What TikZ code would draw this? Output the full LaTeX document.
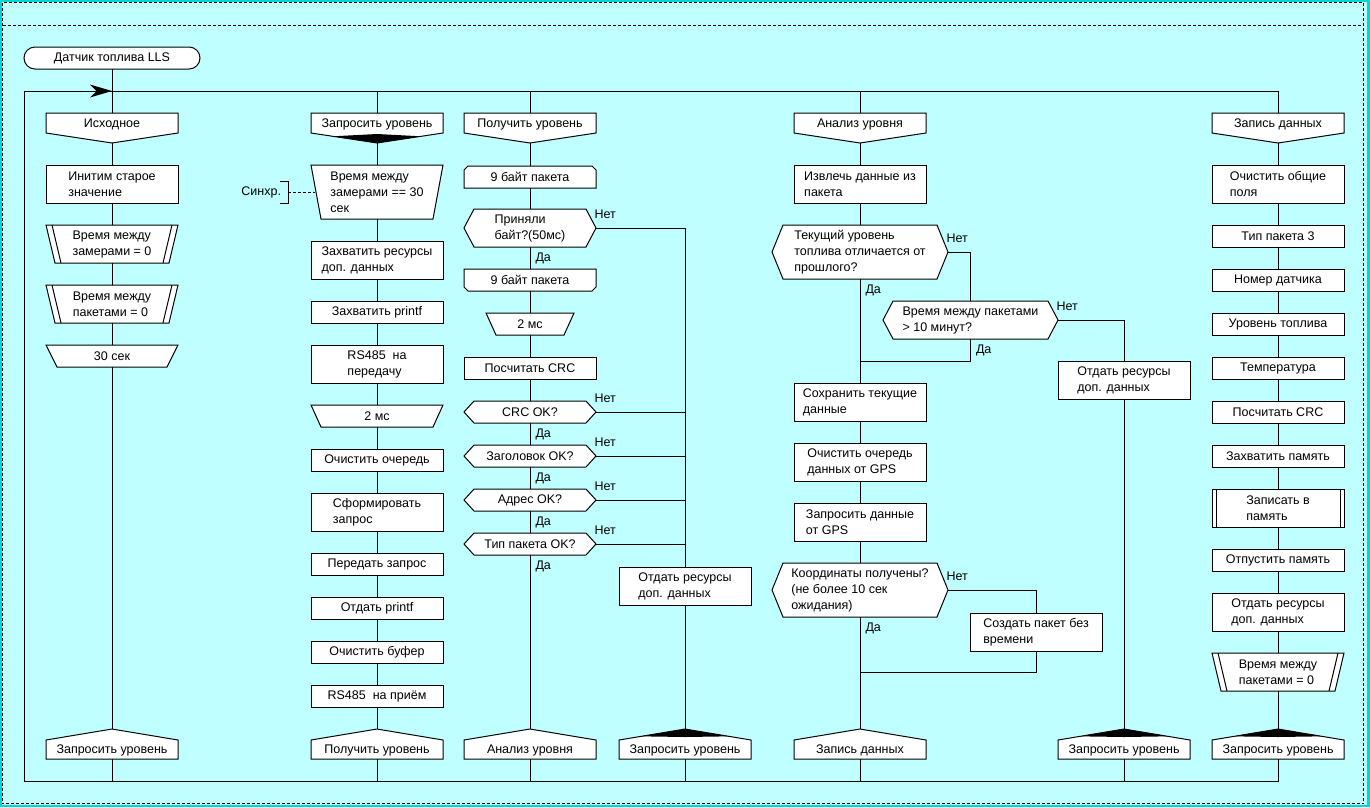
\documentclass[tikz,border=0pt]{standalone}
\usepackage{fontspec}
\setmainfont{Liberation Sans}
\usetikzlibrary{calc}
\definecolor{bgc}{RGB}{192,255,255}
\definecolor{edgec}{RGB}{0,214,214}
\pgfdeclarelayer{bglayer}
\pgfdeclarelayer{lnlayer}
\pgfsetlayers{bglayer,lnlayer,main}
\tikzset{
  ln/.style={draw=black, line width=1pt},
  shp/.style={draw=black, fill=white, line width=1pt, line join=miter},
  txt/.style={inner sep=0pt, outer sep=0pt, align=left, font=\fontsize{12.5}{16}\selectfont, text=black},
  lbl/.style={inner sep=0pt, outer sep=0pt, font=\fontsize{12.5}{16}\selectfont, text=black},
  bdash/.style={draw=black, line width=1pt, dash pattern=on 3pt off 2pt},
}
% action box: name, cx, ytop, w, h, text
\newcommand\Act[6]{\node[txt, shp, minimum width=#4, minimum height=#5] (#1) at (#2,{#3+#5/2}) {#6};}
% branch header: name, cx, ytop, w, text
\newcommand\Hdr[5]{%
  \path[shp] ({#2-#4/2},#3) -- ({#2+#4/2},#3) -- ({#2+#4/2},{#3+20}) -- (#2,{#3+30}) -- ({#2-#4/2},{#3+20}) -- cycle;
  \node[txt, minimum width=#4, minimum height=20] (#1) at (#2,{#3+11.5}) {#5};}
\newcommand\HdrK[5]{\Hdr{#1}{#2}{#3}{#4}{#5}%
  \fill[black] ({#2-44},{#3+23.3}) -- (#2,{#3+21}) -- ({#2+44},{#3+23.3}) -- (#2,{#3+30}) -- cycle;}
% address: name, cx, ypeak, w, text
\newcommand\Adr[5]{%
  \path[shp] ({#2-#4/2},{#3+11}) -- (#2,#3) -- ({#2+#4/2},{#3+11}) -- ({#2+#4/2},{#3+30}) -- ({#2-#4/2},{#3+30}) -- cycle;
  \node[txt, minimum width=#4, minimum height=19] (#1) at (#2,{#3+21.5}) {#5};}
\newcommand\AdrK[5]{\Adr{#1}{#2}{#3}{#4}{#5}%
  \fill[black] ({#2-44},{#3+7.33}) -- (#2,#3) -- ({#2+44},{#3+7.33}) -- (#2,{#3+8}) -- cycle;}
% question: name, cx, ytop, w, h, inset, text
\newcommand\Que[7]{%
  \path[shp] ({#2-#4/2},{#3+#5/2}) -- ({#2-#4/2+#6},#3) -- ({#2+#4/2-#6},#3) -- ({#2+#4/2},{#3+#5/2}) -- ({#2+#4/2-#6},{#3+#5}) -- ({#2-#4/2+#6},{#3+#5}) -- cycle;
  \node[txt, minimum width=#4, minimum height=#5] (#1) at (#2,{#3+#5/2}) {#7};}
% trapezoid wide top: name, cx, ytop, w, h, inset, text
\newcommand\Tmr[7]{%
  \path[shp] ({#2-#4/2},#3) -- ({#2+#4/2},#3) -- ({#2+#4/2-#6},{#3+#5}) -- ({#2-#4/2+#6},{#3+#5}) -- cycle;
  \node[txt, minimum width=#4, minimum height=#5] (#1) at (#2,{#3+#5/2}) {#7};}
% double-sided trapezoid: name, cx, ytop, text
\newcommand\Prl[4]{%
  \path[shp] ({#2-66},#3) -- ({#2+66},#3) -- ({#2+57},{#3+38}) -- ({#2-57},{#3+38}) -- cycle;
  \draw[ln] ({#2-60},#3) -- ({#2-51},{#3+38}) ({#2+60},#3) -- ({#2+51},{#3+38});
  \node[txt, minimum width=132, minimum height=38] (#1) at (#2,{#3+19}) {#4};}
% loop start (top chamfered): name, cx, ytop, text
\newcommand\LpS[4]{%
  \path[shp] ({#2-66},{#3+4}) -- ({#2-62},#3) -- ({#2+62},#3) -- ({#2+66},{#3+4}) -- ({#2+66},{#3+22}) -- ({#2-66},{#3+22}) -- cycle;
  \node[txt, minimum width=132, minimum height=22] (#1) at (#2,{#3+11}) {#4};}
% loop end (bottom chamfered)
\newcommand\LpE[4]{%
  \path[shp] ({#2-66},#3) -- ({#2+66},#3) -- ({#2+66},{#3+18}) -- ({#2+62},{#3+22}) -- ({#2-62},{#3+22}) -- ({#2-66},{#3+18}) -- cycle;
  \node[txt, minimum width=132, minimum height=22] (#1) at (#2,{#3+11}) {#4};}
% subroutine: name, cx, ytop, text
\newcommand\Sbr[4]{%
  \node[txt, shp, minimum width=132, minimum height=38] (#1) at (#2,{#3+19}) {#4};
  \draw[ln] ({#2-62},#3) -- ({#2-62},{#3+38}) ({#2+62},#3) -- ({#2+62},{#3+38});}
\newcommand\Net[1]{\node[lbl, anchor=west] at ($(#1.east)+(-1.5,-13.5)$) {Нет};}
\newcommand\Da[1]{\node[lbl, anchor=west] at ($(#1.south)+(5.5,11.5)$) {Да};}
\begin{document}
\begin{tikzpicture}[x=1pt,y=-1pt]
\useasboundingbox (0,0) rectangle (1370,807);
\begin{pgfonlayer}{bglayer}
  \fill[edgec] (0,0) rectangle (1370,807);
  \fill[bgc] (1.5,1.5) rectangle (1366.5,805);
  \draw[bdash] (2.5,2.5) rectangle (1363.5,803.5);
  \draw[bdash] (2.5,25) -- (1363.5,25);
\end{pgfonlayer}

% title
\node[txt, shp, rounded corners=11, minimum width=176, minimum height=22, align=center] (title) at (112,58) {Датчик топлива LLS};

% ---------- column 1
\Hdr{h1}{112}{113}{132}{Исходное}
\Act{a11}{112}{165}{132}{38}{Инитим старое\\значение}
\Prl{p11}{112}{225}{Время между\\замерами = 0}
\Prl{p12}{112}{285}{Время между\\пакетами = 0}
\Tmr{t11}{112}{345}{132}{22}{11}{30 сек}
\Adr{ad1}{112}{729}{132}{Запросить уровень}

% ---------- column 2
\HdrK{h2}{377}{113}{132}{Запросить уровень}
\Tmr{w2}{377}{165}{132}{54}{10}{Время между\\замерами == 30\\сек}
\Act{a21}{377}{241}{132}{38}{Захватить ресурсы\\доп. данных}
\Act{a22}{377}{301}{132}{22}{Захватить printf}
\Act{a23}{377}{345}{132}{38}{RS485\ \ на\\передачу}
\Tmr{t21}{377}{405}{132}{22}{10}{2 мс}
\Act{a24}{377}{449}{132}{22}{Очистить очередь}
\Act{a25}{377}{493}{132}{38}{Сформировать\\запрос}
\Act{a26}{377}{553}{132}{22}{Передать запрос}
\Act{a27}{377}{597}{132}{22}{Отдать printf}
\Act{a28}{377}{641}{132}{22}{Очистить буфер}
\Act{a29}{377}{685}{132}{22}{RS485\ \ на приём}
\Adr{ad2}{377}{729}{132}{Получить уровень}
\node[lbl, anchor=east] (sync) at (281,192) {Синхр.};
\coordinate (syncb) at (288,192);
\coordinate (w2e) at (315,192);

% ---------- column 3
\Hdr{h3}{530}{113}{132}{Получить уровень}
\LpS{ls3}{530}{166}{9 байт пакета}
\Que{q31}{530}{209}{132}{38}{10}{Приняли\\байт?(50мс)}
\LpE{le3}{530}{269}{9 байт пакета}
\Tmr{t31}{530}{313}{88}{22}{10}{2 мс}
\Act{a31}{530}{357}{132}{22}{Посчитать CRC}
\Que{q32}{530}{401}{132}{22}{10}{CRC OK?}
\Que{q33}{530}{445}{132}{22}{10}{Заголовок OK?}
\Que{q34}{530}{489}{132}{22}{10}{Адрес OK?}
\Que{q35}{530}{533}{132}{22}{10}{Тип пакета OK?}
\Adr{ad3}{530}{729}{132}{Анализ уровня}
\Act{a3b}{685}{567}{132}{38}{Отдать ресурсы\\доп. данных}
\AdrK{ad3b}{685}{729}{132}{Запросить уровень}

% ---------- column 4
\Hdr{h4}{860}{113}{132}{Анализ уровня}
\Act{a41}{860}{165}{132}{38}{Извлечь данные из\\пакета}
\Que{q41}{860}{225}{176}{54}{11}{Текущий уровень\\топлива отличается от\\прошлого?}
\Que{q42}{970.5}{301}{175}{38}{10}{Время между пакетами\\> 10 минут?}
\Act{a42}{860}{383}{132}{38}{Сохранить текущие\\данные}
\Act{a43}{860}{443}{132}{38}{Очистить очередь\\данных от GPS}
\Act{a44}{860}{503}{132}{38}{Запросить данные\\от GPS}
\Que{q43}{860}{563}{176}{54}{11}{Координаты получены?\\(не более 10 сек\\ожидания)}
\Act{a45}{1036}{613}{132}{38}{Создать пакет без\\времени}
\Adr{ad4}{860}{729}{132}{Запись данных}
\Act{a4b}{1124}{361}{132}{38}{Отдать ресурсы\\доп. данных}
\AdrK{ad4b}{1124}{729}{132}{Запросить уровень}

% ---------- column 5
\Hdr{h5}{1278}{113}{132}{Запись данных}
\Act{a51}{1278}{165}{132}{38}{Очистить общие\\поля}
\Act{a52}{1278}{225}{132}{22}{Тип пакета 3}
\Act{a53}{1278}{269}{132}{22}{Номер датчика}
\Act{a54}{1278}{313}{132}{22}{Уровень топлива}
\Act{a55}{1278}{357}{132}{22}{Температура}
\Act{a56}{1278}{401}{132}{22}{Посчитать CRC}
\Act{a57}{1278}{445}{132}{22}{Захватить память}
\Sbr{s51}{1278}{489}{Записать в\\память}
\Act{a58}{1278}{549}{132}{22}{Отпустить память}
\Act{a59}{1278}{593}{132}{38}{Отдать ресурсы\\доп. данных}
\Prl{p51}{1278}{653}{Время между\\пакетами = 0}
\AdrK{ad5}{1278}{729}{132}{Запросить уровень}

% ---------- connectors
\coordinate (lTL) at (24,91);
\coordinate (lBR) at (1278,781);
\coordinate (c1b) at (112,781);
\coordinate (c2t) at (377,91);
\coordinate (c2b) at (377,781);
\coordinate (c3t) at (530,91);
\coordinate (c3b) at (530,781);
\coordinate (c3bb) at (685,781);
\coordinate (c4t) at (860,91);
\coordinate (c4b) at (860,781);
\coordinate (c4bb) at (1124,781);
\coordinate (j41) at (860,361);
\coordinate (j42) at (860,672);
\begin{pgfonlayer}{lnlayer}
  \draw[ln] (lTL) rectangle (lBR);
  \draw[ln] (title.south) -- (c1b);
  \draw[ln] (c2t) -- (c2b);
  \draw[ln] (c3t) -- (c3b);
  \draw[ln] (c4t) -- (c4b);
  \draw[ln] (q31.east) -| (c3bb);
  \draw[ln] (q32.east) -- (q32.east -| c3bb);
  \draw[ln] (q33.east) -- (q33.east -| c3bb);
  \draw[ln] (q34.east) -- (q34.east -| c3bb);
  \draw[ln] (q35.east) -- (q35.east -| c3bb);
  \draw[ln] (q41.east) -| (q42.north);
  \draw[ln] (q42.south) |- (j41);
  \draw[ln] (q42.east) -| (c4bb);
  \draw[ln] (q43.east) -| (a45.north);
  \draw[ln] (a45.south) |- (j42);
  \draw[ln] (280,181.5) -- (288,181.5) -- (288,203) -- (280,203);
  \draw[ln, dash pattern=on 3pt off 2pt] (syncb) -- (w2e);
\end{pgfonlayer}
% loop arrow
\fill[black] (112,91) -- (90,84.5) -- (96.5,91) -- (90,97.5) -- cycle;

% labels
\Net{q31}\Da{q31}
\Net{q32}\Da{q32}
\Net{q33}\Da{q33}
\Net{q34}\Da{q34}
\Net{q35}\Da{q35}
\Net{q41}\Da{q41}
\Net{q42}\Da{q42}
\Net{q43}\Da{q43}
\end{tikzpicture}
\end{document}
